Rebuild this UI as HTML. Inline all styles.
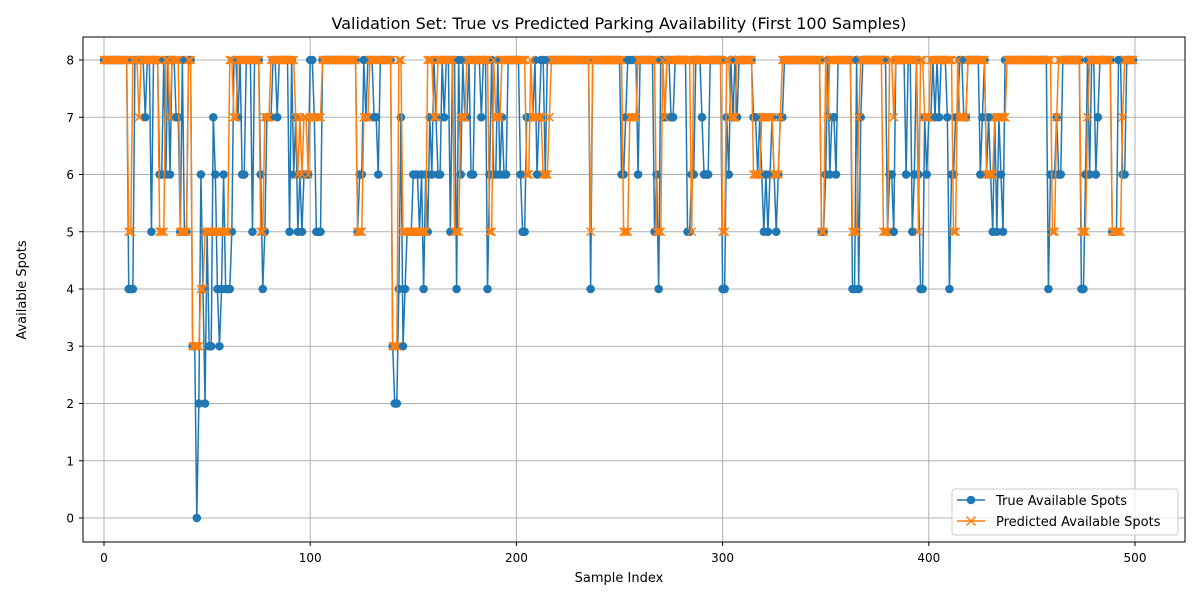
<!DOCTYPE html>
<html><head><meta charset="utf-8"><style>
body{margin:0;background:#fff;font-family:"Liberation Sans","DejaVu Sans",sans-serif;}
svg text{font-family:"DejaVu Sans","Liberation Sans",sans-serif;}
</style></head><body>
<svg id="chart" width="1200" height="600" xmlns="http://www.w3.org/2000/svg">
<rect width="1200" height="600" fill="#fff"/>
<text x="619" y="29" font-size="16" text-anchor="middle">Validation Set: True vs Predicted Parking Availability (First 100 Samples)</text>
<g id="grid"></g>
<g id="axes"></g>
<g id="series"></g>
<rect x="83" y="37" width="1102" height="505" fill="none" stroke="#000" stroke-width="1"/>
<text x="619" y="582" font-size="13" text-anchor="middle">Sample Index</text>
<text x="26" y="290" font-size="13" text-anchor="middle" transform="rotate(-90 26 290)">Available Spots</text>
<g>
<rect x="952" y="489" width="226" height="46" rx="3" fill="#fff" fill-opacity="0.8" stroke="#ccc"/>
<g>
<line x1="957" y1="500" x2="985" y2="500" stroke="#1f77b4" stroke-width="1.5"/>
<circle cx="971" cy="500" r="4.3" fill="#1f77b4"/>
<text x="996" y="505" font-size="13">True Available Spots</text></g>
<g>
<line x1="957" y1="521" x2="985" y2="521" stroke="#ff7f0e" stroke-width="1.5"/>
<path d="M966.5,516.5L975.5,525.5M975.5,516.5L966.5,525.5" stroke="#ff7f0e" stroke-width="1.5"/>
<text x="996" y="526" font-size="13">Predicted Available Spots</text></g>
</g>
</svg>
<script>
const trueStr = "8888888888"+"8844488888"+"7885888668"+"6868877585"+"5883302642"+"5337643464"+"4458878668"+"8858886457"+"7788788888"+"5867565666"+
"8875558888"+"8888888888"+"8885668788"+"8776888888"+"3224734555"+"6665646576"+"8766878858"+"8486877866"+"8887884686"+"6867668888"+
"8865577778"+"6788688888"+"8888888888"+"8888884888"+"8888888888"+"8667888886"+"8888888564"+"8878877888"+"8885566888"+"7666888888"+
"4476878788"+"8888877676"+"5656765677"+"8888888888"+"8888888855"+"6867768888"+"8884484788"+"8888888888"+"5665888886"+"8856864476"+
"7787878887"+"4667788778"+"8888867867"+"6575765888"+"8888888888"+"8888888846"+"6676688888"+"8888446868"+"8678888885"+"5588668888";
const predStr = "8888888888"+"8855888788"+"8888888555"+"8878888555"+"5883333445"+"5555555555"+"5887788888"+"8888885577"+"7888888888"+"8887676776"+
"7777778888"+"8888888888"+"8885557778"+"8888888888"+"3338855555"+"5555555888"+"7788888888"+"5557778888"+"8888888558"+"7778888888"+
"8888866877"+"7776667888"+"8888888888"+"8888885888"+"8888888888"+"8855577778"+"8888888855"+"5878888888"+"8888858888"+"8888888888"+
"5588777888"+"8888866667"+"7777766678"+"8888888888"+"8888888855"+"8788888888"+"8885557888"+"8888888855"+"5887888888"+"8888858877"+
"7888888888"+"8855877778"+"8888888866"+"6677777788"+"8888888888"+"8888888888"+"5578888888"+"8888555788"+"8888888885"+"5555788888";
const trueVals = trueStr.split('').map(Number);
const predVals = predStr.split('').map(Number);
const xTicks = [0,100,200,300,400,500];
const yTicks = [0,1,2,3,4,5,6,7,8];

const NS="http://www.w3.org/2000/svg";
const X = v => 104 + v*(1031/500);
const Y = v => 518 - v*(458/8);
function mk(tag, attrs, parent){const e=document.createElementNS(NS,tag);for(const k in attrs)e.setAttribute(k,attrs[k]);parent.appendChild(e);return e;}
const grid=document.getElementById('grid'), axes=document.getElementById('axes'), series=document.getElementById('series');
xTicks.forEach(t=>{
  const g=mk('line',{x1:X(t),x2:X(t),y1:37,y2:542,stroke:'#b0b0b0','stroke-width':1},grid);
  
  
  mk('line',{x1:X(t),x2:X(t),y1:542,y2:546,stroke:'#000'},axes);
  const tx=mk('text',{x:X(t),y:562,'font-size':12,'text-anchor':'middle'},axes);
  tx.textContent=t;
  
  
});
yTicks.forEach(t=>{
  const g=mk('line',{x1:83,x2:1185,y1:Y(t),y2:Y(t),stroke:'#b0b0b0','stroke-width':1},grid);
  
  
  mk('line',{x1:79,x2:83,y1:Y(t),y2:Y(t),stroke:'#000'},axes);
  const tx=mk('text',{x:74,y:Y(t)+4.5,'font-size':12,'text-anchor':'end'},axes);
  tx.textContent=t;
  
  
});
function drawSeries(vals,color,name){
  const g=mk('g',{},series);
  
  
  const pl=mk('polyline',{points:vals.map((v,i)=>X(i)+','+Y(v)).join(' '),fill:'none',stroke:color,'stroke-width':1.5,'stroke-linejoin':'round'},g);
  
  
  let d='';
  vals.forEach((v,i)=>{
    const x=X(i),y=Y(v);
    if(name==='true-series'){d+=`M${x-4.3},${y}a4.3,4.3 0 1,0 8.6,0a4.3,4.3 0 1,0 -8.6,0`;}
    else{d+=`M${x-4},${y-4}L${x+4},${y+4}M${x+4},${y-4}L${x-4},${y+4}`;}
  });
  const m = name==='true-series' ? mk('path',{d:d,fill:color},g) : mk('path',{d:d,stroke:color,'stroke-width':1.5,fill:'none'},g);
  
  
}
drawSeries(trueVals,'#1f77b4','true-series');
drawSeries(predVals,'#ff7f0e','predicted-series');
</script>
</body></html>
